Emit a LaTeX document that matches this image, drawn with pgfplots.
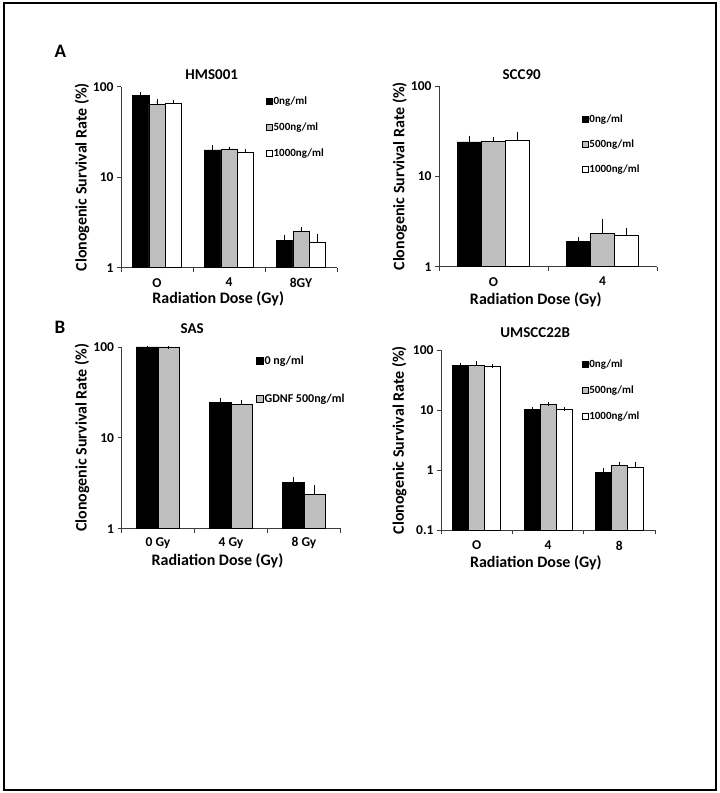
\documentclass[border=0pt]{standalone}
\usepackage{fontspec}
\setmainfont{Carlito}
\usepackage{pgfplots}
\pgfplotsset{compat=1.18}

\definecolor{bargray}{RGB}{191,191,191}
\definecolor{axgray}{RGB}{60,60,60}

\newcommand{\fs}[1]{\fontsize{#1}{#1}\selectfont\bfseries}

\begin{document}
\begin{tikzpicture}
\path (0pt,0pt) rectangle (720pt,793pt);
\draw[line width=2pt] (3.5pt,3pt) rectangle (715.5pt,790pt);
\node[font=\fs{19}] at (60.5pt,741.3pt) {A};
\node[font=\fs{19}] at (60pt,465.5pt) {B};

% HMS001
\begin{axis}[
  at={(121pt,525.3pt)}, anchor=south west,
  scale only axis, width=216pt, height=181pt,
  ymode=log,
  axis lines*=left, axis line style={axgray, line width=0.8pt},
  ybar=0pt, bar width=16.3pt,
  tick align=outside, major tick length=4pt,
  tick style={axgray, line width=0.8pt},
  yminorticks=false,
  xmin=-0.5, xmax=2.5, ymin=1, ymax=100,
  xtick={-0.5,0.5,1.5,2.5}, xticklabels={},
  extra x ticks={0,1,2}, extra x tick labels={O,4,8GY},
  extra x tick style={major tick length=0pt},
  ytick={1,10,100}, yticklabels={1,10,100},
  tick label style={font=\fs{13.5}},
  xticklabel style={yshift=-7pt},
  title={HMS001},
  title style={font=\fs{15}, at={(axis description cs:0.42,1)}, anchor=base, yshift=0.7pt},
  xlabel={Radiation Dose (Gy)},
  xlabel style={font=\fs{16}, at={(axis description cs:0.45,0)}, anchor=base, yshift=-36pt},
  ylabel={Clonogenic Survival Rate (\%)},
  ylabel style={font=\fs{16}, at={(axis description cs:-0.159,0.5)}, anchor=base},
  legend cell align=left,
  legend style={draw=none, fill=none, inner sep=0pt, anchor=north west,
    font=\fs{11}, nodes={inner sep=1pt},
    at={(axis description cs:0.671,0.95)}, row sep=14.5pt},
  legend image code/.code={\draw[#1,draw=black,line width=0.5pt] (0pt,-3pt) rectangle (6pt,3pt);},
  error bars/y dir=plus, error bars/y explicit,
  error bars/error bar style={black, line width=0.6pt},
  error bars/error mark options={black, line width=0.6pt, mark size=1.8pt},
]
\addplot[fill=black, draw=black, line width=0.6pt] table[x=x, y=y, y error=e] {
x y e
0 79.5 3.5
1 20.0 1.4
2 2.02 0.20
};
\addplot[fill=bargray, draw=black, line width=0.6pt] table[x=x, y=y, y error=e] {
x y e
0 64.0 5.5
1 20.5 0.3
2 2.52 0.15
};
\addplot[fill=white, draw=black, line width=0.6pt] table[x=x, y=y, y error=e] {
x y e
0 65.5 3.0
1 18.8 0.8
2 1.91 0.32
};
\legend{0ng/ml,500ng/ml,1000ng/ml}
\end{axis}

% SCC90
\begin{axis}[
  at={(439pt,526.3pt)}, anchor=south west,
  scale only axis, width=218pt, height=180.7pt,
  ymode=log,
  axis lines*=left, axis line style={axgray, line width=0.8pt},
  ybar=0pt, bar width=24pt,
  tick align=outside, major tick length=4pt,
  tick style={axgray, line width=0.8pt},
  yminorticks=false,
  xmin=-0.5, xmax=1.5, ymin=1, ymax=100,
  xtick={-0.5,0.5,1.5}, xticklabels={},
  extra x ticks={0,1}, extra x tick labels={O,4},
  extra x tick style={major tick length=0pt},
  ytick={1,10,100}, yticklabels={1,10,100},
  tick label style={font=\fs{13.5}},
  xticklabel style={yshift=-7pt},
  title={SCC90},
  title style={font=\fs{15}, at={(axis description cs:0.379,1)}, anchor=base, yshift=0pt},
  xlabel={Radiation Dose (Gy)},
  xlabel style={font=\fs{16}, at={(axis description cs:0.444,0)}, anchor=base, yshift=-37.5pt},
  ylabel={Clonogenic Survival Rate (\%)},
  ylabel style={font=\fs{16}, at={(axis description cs:-0.159,0.5)}, anchor=base},
  legend cell align=left,
  legend style={draw=none, fill=none, inner sep=0pt, anchor=north west,
    font=\fs{11}, nodes={inner sep=1pt},
    at={(axis description cs:0.655,0.849)}, row sep=14pt},
  legend image code/.code={\draw[#1,draw=black,line width=0.5pt] (0pt,-3pt) rectangle (6pt,3pt);},
  error bars/y dir=plus, error bars/y explicit,
  error bars/error bar style={black, line width=0.6pt},
  error bars/error mark options={black, line width=0.6pt, mark size=1.8pt},
]
\addplot[fill=black, draw=black, line width=0.6pt] table[x=x, y=y, y error=e] {
x y e
0 24.0 3.0
1 1.92 0.10
};
\addplot[fill=bargray, draw=black, line width=0.6pt] table[x=x, y=y, y error=e] {
x y e
0 24.2 2.0
1 2.34 0.90
};
\addplot[fill=white, draw=black, line width=0.6pt] table[x=x, y=y, y error=e] {
x y e
0 25.3 4.3
1 2.23 0.30
};
\legend{0ng/ml,500ng/ml,1000ng/ml}
\end{axis}

% SAS
\begin{axis}[
  at={(121.5pt,264.3pt)}, anchor=south west,
  scale only axis, width=219pt, height=181.7pt,
  ymode=log,
  axis lines*=left, axis line style={axgray, line width=0.8pt},
  ybar=0pt, bar width=21.5pt,
  tick align=outside, major tick length=4pt,
  tick style={axgray, line width=0.8pt},
  yminorticks=false,
  xmin=-0.5, xmax=2.5, ymin=1, ymax=100,
  xtick={-0.5,0.5,1.5,2.5}, xticklabels={},
  extra x ticks={0,1,2}, extra x tick labels={0 Gy,4 Gy,8 Gy},
  extra x tick style={major tick length=0pt},
  ytick={1,10,100}, yticklabels={1,10,100},
  tick label style={font=\fs{13.5}},
  xticklabel style={yshift=-5pt},
  title={SAS},
  title style={font=\fs{15}, at={(axis description cs:0.323,1)}, anchor=base, yshift=7.7pt},
  xlabel={Radiation Dose (Gy)},
  xlabel style={font=\fs{16}, at={(axis description cs:0.438,0)}, anchor=base, yshift=-37pt},
  ylabel={Clonogenic Survival Rate (\%)},
  ylabel style={font=\fs{16}, at={(axis description cs:-0.159,0.5)}, anchor=base},
  legend cell align=left,
  legend style={draw=none, fill=none, inner sep=0pt, anchor=north west,
    font=\fs{12}, nodes={inner sep=1pt},
    at={(axis description cs:0.614,0.956)}, row sep=26pt},
  legend image code/.code={\draw[#1,draw=black,line width=0.5pt] (0pt,-3.5pt) rectangle (7pt,3.5pt);},
  error bars/y dir=plus, error bars/y explicit,
  error bars/error bar style={black, line width=0.6pt},
  error bars/error mark options={black, line width=0.6pt, mark size=1.8pt},
]
\addplot[fill=black, draw=black, line width=0.6pt] table[x=x, y=y, y error=e] {
x y e
0 100 0
1 24.4 1.5
2 3.26 0.28
};
\addplot[fill=bargray, draw=black, line width=0.6pt] table[x=x, y=y, y error=e] {
x y e
0 100 0
1 23.4 1.3
2 2.40 0.48
};
\legend{0 ng/ml,GDNF 500ng/ml}
\end{axis}

% UMSCC22B
\begin{axis}[
  at={(441pt,262.7pt)}, anchor=south west,
  scale only axis, width=214pt, height=180.3pt,
  ymode=log, log origin y=infty,
  axis lines*=left, axis line style={axgray, line width=0.8pt},
  ybar=0pt, bar width=16pt,
  tick align=outside, major tick length=4pt,
  tick style={axgray, line width=0.8pt},
  yminorticks=false,
  xmin=-0.5, xmax=2.5, ymin=0.1, ymax=100,
  xtick={-0.5,0.5,1.5,2.5}, xticklabels={},
  extra x ticks={0,1,2}, extra x tick labels={O,4,8},
  extra x tick style={major tick length=0pt},
  ytick={0.1,1,10,100}, yticklabels={0.1,1,10,100},
  tick label style={font=\fs{13.5}},
  xticklabel style={yshift=-7pt},
  title={UMSCC22B},
  title style={font=\fs{15}, at={(axis description cs:0.44,1)}, anchor=base, yshift=6.3pt},
  xlabel={Radiation Dose (Gy)},
  xlabel style={font=\fs{16}, at={(axis description cs:0.443,0)}, anchor=base, yshift=-37pt},
  ylabel={Clonogenic Survival Rate (\%)},
  ylabel style={font=\fs{16}, at={(axis description cs:-0.173,0.5)}, anchor=base},
  legend cell align=left,
  legend style={draw=none, fill=none, inner sep=0pt, anchor=north west,
    font=\fs{11}, nodes={inner sep=1pt},
    at={(axis description cs:0.657,0.954)}, row sep=15pt},
  legend image code/.code={\draw[#1,draw=black,line width=0.5pt] (0pt,-3pt) rectangle (6pt,3pt);},
  error bars/y dir=plus, error bars/y explicit,
  error bars/error bar style={black, line width=0.6pt},
  error bars/error mark options={black, line width=0.6pt, mark size=1.8pt},
]
\addplot[fill=black, draw=black, line width=0.6pt] table[x=x, y=y, y error=e] {
x y e
0 55.0 2.7
1 10.3 0.15
2 0.92 0.08
};
\addplot[fill=bargray, draw=black, line width=0.6pt] table[x=x, y=y, y error=e] {
x y e
0 55.7 5.0
1 12.6 0.15
2 1.19 0.10
};
\addplot[fill=white, draw=black, line width=0.6pt] table[x=x, y=y, y error=e] {
x y e
0 53.6 0.5
1 10.3 0.10
2 1.12 0.17
};
\legend{0ng/ml,500ng/ml,1000ng/ml}
\end{axis}
\end{tikzpicture}
\end{document}
